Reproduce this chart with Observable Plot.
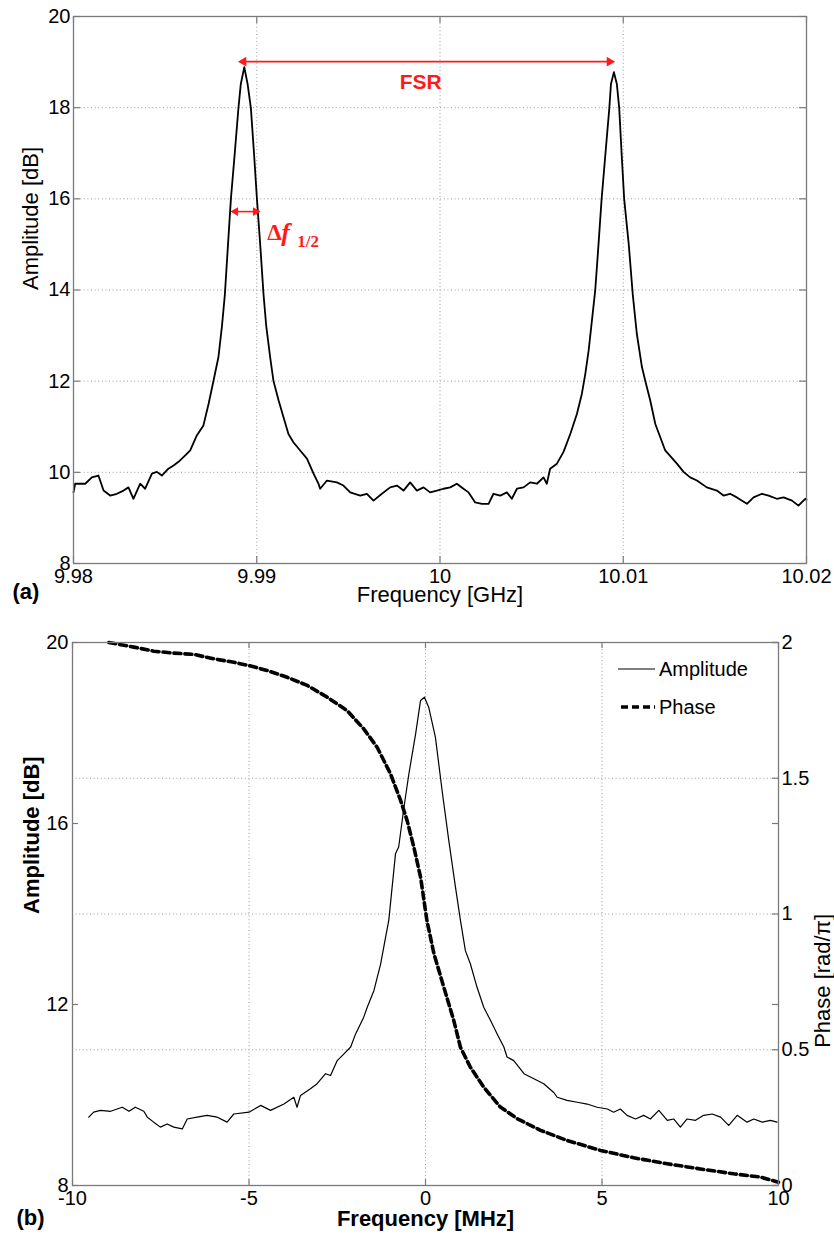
<!DOCTYPE html>
<html><head><meta charset="utf-8">
<script src="https://cdn.jsdelivr.net/npm/d3@7"></script>
<script src="https://cdn.jsdelivr.net/npm/@observablehq/plot@0.6"></script>
<style>
body{margin:0;background:#fff;}
#wrap{position:relative;width:834px;height:1238px;overflow:hidden;background:#fff;font-family:"Liberation Sans",Arial,sans-serif;}
#pa{position:absolute;left:0;top:0;}
#pb{position:absolute;left:0;top:620px;}
#legend{position:absolute;left:610px;top:650px;}
</style></head><body>
<div id="wrap"><div id="pa"></div><div id="pb"></div>
<svg id="legend" width="160" height="80" font-family="Liberation Sans, Arial, sans-serif"></svg>
</div>
<script>
// ---------- Panel (a) data: amplitude vs frequency [GHz] ----------
const freqA = [9.98000,9.98009,9.98064,9.98100,9.98136,9.98164,9.98200,9.98237,9.98273,9.98300,9.98327,9.98364,9.98391,9.98428,9.98455,9.98482,9.98518,9.98546,9.98573,9.98610,9.98637,9.98673,9.98709,9.98737,9.98764,9.98791,9.98810,9.98826,9.98843,9.98859,9.98880,9.98900,9.98913,9.98932,9.98950,9.98968,9.98985,9.99001,9.99019,9.99037,9.99052,9.99073,9.99091,9.99119,9.99146,9.99173,9.99200,9.99237,9.99274,9.99310,9.99337,9.99346,9.99383,9.99437,9.99473,9.99510,9.99565,9.99601,9.99637,9.99683,9.99728,9.99765,9.99801,9.99837,9.99874,9.99910,9.99946,9.99983,10.00019,10.00056,10.00092,10.00128,10.00156,10.00192,10.00229,10.00265,10.00292,10.00329,10.00365,10.00392,10.00420,10.00456,10.00492,10.00529,10.00565,10.00583,10.00601,10.00638,10.00674,10.00711,10.00747,10.00774,10.00793,10.00811,10.00829,10.00847,10.00865,10.00882,10.00903,10.00924,10.00933,10.00949,10.00965,10.00978,10.00991,10.01005,10.01030,10.01052,10.01074,10.01102,10.01120,10.01147,10.01175,10.01202,10.01229,10.01293,10.01329,10.01365,10.01402,10.01456,10.01511,10.01547,10.01583,10.01620,10.01675,10.01711,10.01757,10.01793,10.01838,10.01875,10.01921,10.01956,10.01993,10.02000];
const ampA = [9.56,9.75,9.75,9.89,9.93,9.60,9.49,9.53,9.60,9.67,9.42,9.75,9.64,9.97,10.01,9.93,10.08,10.15,10.23,10.37,10.48,10.81,11.03,11.50,12.01,12.53,13.20,13.90,14.99,16.00,17.00,17.99,18.52,18.89,18.52,17.99,17.00,16.00,14.99,13.90,13.20,12.53,12.01,11.58,11.21,10.84,10.66,10.48,10.30,9.97,9.75,9.64,9.82,9.78,9.71,9.56,9.49,9.53,9.38,9.53,9.67,9.71,9.60,9.78,9.60,9.67,9.56,9.60,9.64,9.67,9.75,9.64,9.56,9.34,9.31,9.31,9.53,9.49,9.56,9.42,9.64,9.67,9.78,9.75,9.89,9.75,10.08,10.19,10.45,10.84,11.28,11.72,12.16,12.67,13.33,13.99,15.00,16.00,17.00,17.99,18.52,18.78,18.52,17.99,17.00,16.00,15.00,13.90,13.04,12.31,12.01,11.58,11.06,10.77,10.48,10.19,10.01,9.89,9.82,9.67,9.60,9.49,9.53,9.45,9.31,9.45,9.53,9.49,9.42,9.45,9.38,9.27,9.42,9.40];
const xTicksA = [9.98, 9.99, 10, 10.01, 10.02];
const xLabelsA = ["9.98", "9.99", "10", "10.01", "10.02"];
const yTicksA = [8, 10, 12, 14, 16, 18, 20];
// annotations (a)
const fsrArrow = {x1: 9.98917, x2: 10.00936, y: 19.01, label: "FSR", labelX: 9.99895, labelY: 18.55};
const halfArrow = {x1: 9.98873, x2: 9.99004, y: 15.72, labelX: 9.99057, labelY: 15.26};

// ---------- Panel (b) data ----------
const freqB = [-9.54,-9.40,-9.21,-8.92,-8.59,-8.40,-8.22,-7.98,-7.88,-7.70,-7.51,-7.32,-7.13,-6.89,-6.75,-6.47,-6.19,-5.90,-5.62,-5.43,-5.00,-4.67,-4.39,-4.01,-3.73,-3.64,-3.54,-3.26,-3.07,-2.83,-2.69,-2.50,-2.31,-2.12,-1.98,-1.75,-1.65,-1.46,-1.27,-1.13,-1.04,-0.85,-0.76,-0.61,-0.47,-0.28,-0.14,-0.03,0.09,0.28,0.47,0.66,0.85,0.99,1.13,1.27,1.46,1.65,1.84,2.03,2.22,2.31,2.50,2.79,3.07,3.35,3.64,3.73,4.01,4.30,4.58,4.86,5.15,5.33,5.52,5.71,5.95,6.18,6.37,6.61,6.85,7.03,7.22,7.41,7.65,7.88,8.12,8.36,8.59,8.83,9.11,9.30,9.54,9.77,9.96];
const ampB = [9.51,9.62,9.66,9.64,9.73,9.64,9.73,9.64,9.51,9.40,9.29,9.36,9.29,9.25,9.47,9.51,9.55,9.51,9.40,9.58,9.62,9.77,9.66,9.80,9.95,9.73,9.99,10.14,10.25,10.47,10.43,10.76,10.91,11.06,11.35,11.72,11.94,12.31,12.90,13.49,13.86,15.33,15.48,16.36,17.10,17.98,18.72,18.79,18.57,17.91,16.73,15.62,14.59,13.86,13.19,12.90,12.38,11.94,11.65,11.35,11.06,10.84,10.76,10.47,10.36,10.25,10.05,9.95,9.88,9.84,9.80,9.73,9.69,9.62,9.69,9.55,9.47,9.55,9.47,9.66,9.44,9.47,9.29,9.47,9.44,9.55,9.58,9.51,9.33,9.55,9.40,9.47,9.40,9.44,9.40];
const freqPhase = [-8.97,-8.26,-7.70,-7.13,-6.56,-6.00,-5.43,-5.00,-4.49,-3.92,-3.35,-2.79,-2.22,-1.75,-1.37,-0.99,-0.71,-0.52,-0.33,-0.14,0.04,0.24,0.52,0.80,0.99,1.27,1.65,2.12,2.60,3.26,4.01,4.96,5.90,6.85,7.79,8.73,9.49,10.0];
const phase = [2.000,1.983,1.968,1.961,1.956,1.940,1.927,1.915,1.897,1.872,1.842,1.799,1.749,1.682,1.614,1.516,1.420,1.344,1.246,1.136,0.976,0.853,0.730,0.608,0.509,0.436,0.362,0.289,0.246,0.203,0.166,0.129,0.102,0.080,0.061,0.043,0.031,0.012];
const xTicksB = [-10, -5, 0, 5, 10];
const xLabelsB = ["-10", "-5", "0", "5", "10"];
const yTicksB = [8, 12, 16, 20];
const phaseTicks = [0, 0.5, 1, 1.5, 2];
const phaseTickLabels = ["0", "0.5", "1", "1.5", "2"];
const ampDomainB = [8, 20];
const phaseDomain = [0, 2];
const legendItems = ["Amplitude", "Phase"];

// ---------- styles ----------
const FONT = "Liberation Sans, Arial, sans-serif";
const SERIF = "Liberation Serif, DejaVu Serif, serif";
const AX = "#7a7a7a";
const GRID = "#9a9a9a";
const RED = "#ff1a1a";
const DOT = "1,2.6";

// ---------- Panel (a) ----------
const A = {w: 834, h: 620, mt: 16, ml: 73, mr: 28, mb: 57};
const aInnerW = A.w - A.ml - A.mr, aInnerH = A.h - A.mt - A.mb;
const dataA = freqA.map((f, i) => ({f, a: ampA[i]}));
const tl = 7;
const plotA = Plot.plot({
  width: A.w, height: A.h, marginTop: A.mt, marginLeft: A.ml, marginRight: A.mr, marginBottom: A.mb,
  style: {fontFamily: FONT, fontSize: "20px", color: "#000", background: "white", overflow: "visible"},
  x: {domain: [xTicksA[0], xTicksA[xTicksA.length - 1]]},
  y: {domain: [8, 20]},
  marks: [
    Plot.ruleX(xTicksA.slice(1, -1), {stroke: GRID, strokeDasharray: DOT, strokeWidth: 1}),
    Plot.ruleY(yTicksA.slice(1, -1), {stroke: GRID, strokeDasharray: DOT, strokeWidth: 1}),
    Plot.line(dataA, {x: "f", y: "a", stroke: "#000", strokeWidth: 1.8, strokeLinejoin: "round"}),
    Plot.tickX(xTicksA, {x: d => d, insetTop: aInnerH - tl, stroke: AX, strokeWidth: 1.2}),
    Plot.tickX(xTicksA, {x: d => d, insetBottom: aInnerH - tl, stroke: AX, strokeWidth: 1.2}),
    Plot.tickY(yTicksA, {y: d => d, insetRight: aInnerW - tl, stroke: AX, strokeWidth: 1.2}),
    Plot.tickY(yTicksA, {y: d => d, insetLeft: aInnerW - tl, stroke: AX, strokeWidth: 1.2}),
    Plot.axisX(xTicksA, {tickSize: 0, tickPadding: 5, label: null, fontSize: 20, tickFormat: d => xLabelsA[xTicksA.indexOf(d)]}),
    Plot.axisY(yTicksA, {tickSize: 0, tickPadding: 3, label: null, fontSize: 20}),
    Plot.frame({stroke: AX, strokeWidth: 1.3}),
    Plot.text(["Frequency [GHz]"], {frameAnchor: "bottom", dy: 38, fontSize: 22, fill: "#000"}),
    Plot.text(["Amplitude [dB]"], {frameAnchor: "left", dx: -43, rotate: -90, fontSize: 22, fill: "#000"}),
    Plot.text(["(a)"], {frameAnchor: "bottom-left", dx: -61, dy: 35, textAnchor: "start", fontSize: 22, fontWeight: "bold", fill: "#000"}),
    // FSR arrow
    Plot.ruleY([fsrArrow], {y: "y", x1: "x1", x2: "x2", stroke: RED, strokeWidth: 1.6}),
    Plot.dot([fsrArrow], {x: "x1", y: "y", symbol: "triangle", rotate: -90, r: 3.6, fill: RED, stroke: "none", dx: 2}),
    Plot.dot([fsrArrow], {x: "x2", y: "y", symbol: "triangle", rotate: 90, r: 3.6, fill: RED, stroke: "none", dx: -2}),
    Plot.text([fsrArrow], {x: "labelX", y: "labelY", text: "label", fill: RED, fontWeight: "bold", fontSize: 21}),
    // half width arrow
    Plot.ruleY([halfArrow], {y: "y", x1: "x1", x2: "x2", stroke: RED, strokeWidth: 1.6}),
    Plot.dot([halfArrow], {x: "x1", y: "y", symbol: "triangle", rotate: -90, r: 3.3, fill: RED, stroke: "none", dx: 2}),
    Plot.dot([halfArrow], {x: "x2", y: "y", symbol: "triangle", rotate: 90, r: 3.3, fill: RED, stroke: "none", dx: -2}),
    Plot.text([halfArrow], {x: "labelX", y: "labelY", text: () => "Δ", textAnchor: "start", fill: RED, fontWeight: "bold", fontSize: 23, fontFamily: SERIF}),
    Plot.text([halfArrow], {x: "labelX", y: "labelY", text: () => "f", textAnchor: "start", dx: 14, fill: RED, fontWeight: "bold", fontStyle: "italic", fontSize: 26, fontFamily: SERIF}),
    Plot.text([halfArrow], {x: "labelX", y: "labelY", text: () => "1/2", textAnchor: "start", dx: 30, dy: 9, fill: RED, fontWeight: "bold", fontSize: 17, fontFamily: SERIF})
  ]
});
document.getElementById("pa").appendChild(plotA);

// ---------- Panel (b) ----------
const B = {w: 834, h: 618, mt: 22, ml: 72, mr: 56, mb: 53};
const bInnerW = B.w - B.ml - B.mr, bInnerH = B.h - B.mt - B.mb;
const toAmp = d3.scaleLinear().domain(phaseDomain).range(ampDomainB);
const dataB = freqB.map((f, i) => ({f, a: ampB[i]}));
const dataP = freqPhase.map((f, i) => ({f, p: phase[i]}));
const phaseTickPos = phaseTicks.map(toAmp);
const tb = 6;
const plotB = Plot.plot({
  width: B.w, height: B.h, marginTop: B.mt, marginLeft: B.ml, marginRight: B.mr, marginBottom: B.mb,
  style: {fontFamily: FONT, fontSize: "20px", color: "#000", background: "white", overflow: "visible"},
  x: {domain: [xTicksB[0], xTicksB[xTicksB.length - 1]]},
  y: {domain: ampDomainB},
  marks: [
    Plot.ruleX(xTicksB.slice(1, -1), {stroke: GRID, strokeDasharray: DOT, strokeWidth: 1}),
    Plot.ruleY(phaseTickPos.slice(1, -1), {stroke: GRID, strokeDasharray: DOT, strokeWidth: 1}),
    Plot.line(dataB, {x: "f", y: "a", stroke: "#000", strokeWidth: 1.2, strokeLinejoin: "round"}),
    Plot.line(dataP, {x: "f", y: d => toAmp(d.p), stroke: "#000", strokeWidth: 3.6, strokeDasharray: "7,4"}),
    Plot.tickX(xTicksB, {x: d => d, insetTop: bInnerH - tb, stroke: AX, strokeWidth: 1.2}),
    Plot.tickX(xTicksB, {x: d => d, insetBottom: bInnerH - tb, stroke: AX, strokeWidth: 1.2}),
    Plot.tickY(yTicksB, {y: d => d, insetRight: bInnerW - tb, stroke: AX, strokeWidth: 1.2}),
    Plot.tickY(yTicksB, {y: d => d, insetLeft: bInnerW - tb, stroke: AX, strokeWidth: 1.2}),
    Plot.tickY(phaseTickPos, {y: d => d, insetLeft: bInnerW - tb, stroke: AX, strokeWidth: 1.2}),
    Plot.axisX(xTicksB, {tickSize: 0, tickPadding: 5, label: null, fontSize: 20, tickFormat: d => xLabelsB[xTicksB.indexOf(d)]}),
    Plot.axisY(yTicksB, {anchor: "left", tickSize: 0, tickPadding: 4, label: null, fontSize: 20}),
    Plot.axisY(phaseTickPos, {anchor: "right", tickSize: 0, tickPadding: 3, label: null, fontSize: 20, tickFormat: d => phaseTickLabels[phaseTickPos.indexOf(d)]}),
    Plot.frame({stroke: AX, strokeWidth: 1.3}),
    Plot.text(["Frequency [MHz]"], {frameAnchor: "bottom", dy: 40, fontSize: 22, fontWeight: "bold", fill: "#000"}),
    Plot.text(["Amplitude [dB]"], {frameAnchor: "left", dx: -41, rotate: -90, fontSize: 22, fontWeight: "bold", fill: "#000"}),
    Plot.text(["Phase [rad/π]"], {frameAnchor: "right", dx: 44, rotate: -90, fontSize: 22, fill: "#000"}),
    Plot.text(["(b)"], {frameAnchor: "bottom-left", dx: -56, dy: 39, textAnchor: "start", fontSize: 22, fontWeight: "bold", fill: "#000"})
  ]
});
document.getElementById("pb").appendChild(plotB);

// ---------- Legend (b) ----------
const lg = d3.select("#legend");
const rows = lg.selectAll("g").data(legendItems).join("g").attr("transform", (d, i) => `translate(0,${19 + i * 38})`);
rows.append("line").attr("x1", (d, i) => i ? 11 : 8).attr("x2", 45).attr("y1", 0).attr("y2", 0)
  .attr("stroke", "#000").attr("stroke-width", (d, i) => i ? 3.6 : 1.2)
  .attr("stroke-dasharray", (d, i) => i ? "7,4" : null);
rows.append("text").attr("x", 49).attr("y", 0).attr("dy", "0.35em").attr("font-size", 20).attr("fill", "#000").text(d => d);
</script>
</body></html>
